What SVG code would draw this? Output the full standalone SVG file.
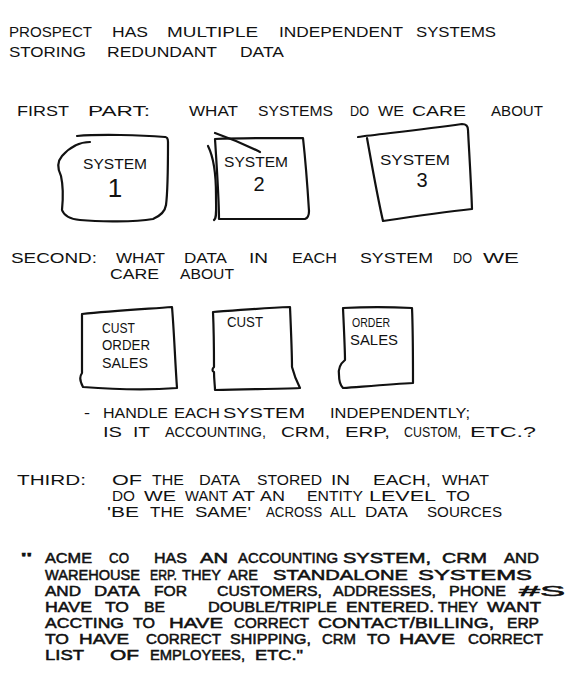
<svg xmlns="http://www.w3.org/2000/svg" width="588" height="680" viewBox="0 0 588 680">
<style>
  .t text{font-family:"Liberation Sans",Arial,sans-serif;fill:#111;font-size:15px}
  .s text{font-size:14px}
  .q text{stroke:#111;stroke-width:0.5px}
  .box{fill:none;stroke:#111;stroke-width:2.2;stroke-linecap:round;stroke-linejoin:round}
</style>
<rect width="588" height="680" fill="#fff"/>

<g id="intro" class="t">
  <text x="9" y="37" textLength="83" lengthAdjust="spacingAndGlyphs">PROSPECT</text>
  <text x="112" y="37" textLength="36" lengthAdjust="spacingAndGlyphs">HAS</text>
  <text x="167" y="37" textLength="91" lengthAdjust="spacingAndGlyphs">MULTIPLE</text>
  <text x="279" y="37" textLength="124" lengthAdjust="spacingAndGlyphs">INDEPENDENT</text>
  <text x="416" y="37" textLength="80" lengthAdjust="spacingAndGlyphs">SYSTEMS</text>
  <text x="9" y="57" textLength="77" lengthAdjust="spacingAndGlyphs">STORING</text>
  <text x="107" y="57" textLength="110" lengthAdjust="spacingAndGlyphs">REDUNDANT</text>
  <text x="240" y="57" textLength="44" lengthAdjust="spacingAndGlyphs">DATA</text>
</g>

<g id="first-part" class="t">
  <text x="17" y="116" textLength="52" lengthAdjust="spacingAndGlyphs">FIRST</text>
  <text x="88" y="116" textLength="62" lengthAdjust="spacingAndGlyphs">PART:</text>
  <text x="189" y="116" textLength="49" lengthAdjust="spacingAndGlyphs">WHAT</text>
  <text x="258" y="116" textLength="75" lengthAdjust="spacingAndGlyphs">SYSTEMS</text>
  <text x="350" y="116" textLength="19" lengthAdjust="spacingAndGlyphs">DO</text>
  <text x="378" y="116" textLength="26" lengthAdjust="spacingAndGlyphs">WE</text>
  <text x="412" y="116" textLength="54" lengthAdjust="spacingAndGlyphs">CARE</text>
  <text x="491" y="116" textLength="52" lengthAdjust="spacingAndGlyphs">ABOUT</text>
</g>

<g id="system-1" class="t">
  <path class="box" d="M77,136 C100,134 140,135 165,137"/>
  <path class="box" d="M90,142 C80,142 70,147 62,156 C56,163 58,170 61,176 C63,185 63,200 62,210 C64,216 70,219 80,220 C100,222 135,222 153,219 C160,216 165,212 166,205 C168,190 168,160 168,142 C168,139 167,137 165,137"/>
  <text x="83" y="169" textLength="64" lengthAdjust="spacingAndGlyphs">SYSTEM</text>
  <text x="115" y="197" text-anchor="middle" style="font-size:26px">1</text>
</g>

<g id="system-2" class="t">
  <path class="box" d="M215,139 C240,138 280,138 303,138 C306,165 308,195 309,211 C309,215 308,218 305,219 C280,219 250,219 219,219 C219,200 217,170 215,139"/>
  <path class="box" d="M215,133 C235,140 250,147 260,152"/>
  <path class="box" d="M208,146 C214,158 216,175 216,195 C216,210 217,218 214,220"/>
  <text x="224" y="167" textLength="64" lengthAdjust="spacingAndGlyphs">SYSTEM</text>
  <text x="259" y="191" text-anchor="middle" style="font-size:20px">2</text>
</g>

<g id="system-3" class="t">
  <path class="box" d="M358,137 C380,134 420,130 462,124 C466,124 468,126 468,130 C469,150 471,180 472,209 C445,212 410,217 383,221 C377,195 371,160 367,138"/>
  <text x="380" y="165" textLength="70" lengthAdjust="spacingAndGlyphs">SYSTEM</text>
  <text x="422" y="187" text-anchor="middle" style="font-size:20px">3</text>
</g>

<g id="second" class="t s">
  <text x="11" y="263" textLength="86" lengthAdjust="spacingAndGlyphs">SECOND:</text>
  <text x="116" y="263" textLength="49" lengthAdjust="spacingAndGlyphs">WHAT</text>
  <text x="184" y="263" textLength="43" lengthAdjust="spacingAndGlyphs">DATA</text>
  <text x="249" y="263" textLength="19" lengthAdjust="spacingAndGlyphs">IN</text>
  <text x="292" y="263" textLength="45" lengthAdjust="spacingAndGlyphs">EACH</text>
  <text x="360" y="263" textLength="73" lengthAdjust="spacingAndGlyphs">SYSTEM</text>
  <text x="453" y="263" textLength="19" lengthAdjust="spacingAndGlyphs">DO</text>
  <text x="483" y="263" textLength="36" lengthAdjust="spacingAndGlyphs">WE</text>
  <text x="110" y="279" textLength="49" lengthAdjust="spacingAndGlyphs">CARE</text>
  <text x="180" y="279" textLength="54" lengthAdjust="spacingAndGlyphs">ABOUT</text>
</g>

<g id="data-1" class="t">
  <path class="box" d="M82,314 C110,311 145,309 172,307 C174,330 175,360 177,388 C150,390 110,389 83,387 C79,379 80,376 82,373 C82,365 82,340 82,314"/>
  <text x="102" y="333" textLength="33" lengthAdjust="spacingAndGlyphs">CUST</text>
  <text x="102" y="350" textLength="48" lengthAdjust="spacingAndGlyphs">ORDER</text>
  <text x="102" y="368" textLength="46" lengthAdjust="spacingAndGlyphs">SALES</text>
</g>

<g id="data-2" class="t">
  <path class="box" d="M213,312 C240,310 265,308 290,307 C291,330 292,355 292,367 C294,375 297,382 300,388 C275,389 245,389 215,390 C215,386 214,380 214,372 C212,371 212,369 214,367 C214,360 214,335 213,312"/>
  <text x="227" y="327" textLength="36" lengthAdjust="spacingAndGlyphs">CUST</text>
</g>

<g id="data-3" class="t">
  <path class="box" d="M343,308 C365,307 390,307 412,308 C413,330 413,360 413,383 C395,384 370,386 343,388 C340,385 339,380 339,375 C338,368 340,364 345,360 C345,350 344,330 343,308"/>
  <text x="352" y="327" textLength="38" lengthAdjust="spacingAndGlyphs" style="font-size:13px">ORDER</text>
  <text x="350" y="345" textLength="48" lengthAdjust="spacingAndGlyphs">SALES</text>
</g>

<g id="handle" class="t">
  <text x="84" y="418" textLength="6" lengthAdjust="spacingAndGlyphs">-</text>
  <text x="103" y="418" textLength="65" lengthAdjust="spacingAndGlyphs">HANDLE</text>
  <text x="174" y="418" textLength="46" lengthAdjust="spacingAndGlyphs">EACH</text>
  <text x="223" y="418" textLength="82" lengthAdjust="spacingAndGlyphs">SYSTEM</text>
  <text x="330" y="418" textLength="140" lengthAdjust="spacingAndGlyphs">INDEPENDENTLY;</text>
  <text x="103" y="437" textLength="19" lengthAdjust="spacingAndGlyphs">IS</text>
  <text x="133" y="437" textLength="17" lengthAdjust="spacingAndGlyphs">IT</text>
  <text x="165" y="437" textLength="101" lengthAdjust="spacingAndGlyphs">ACCOUNTING,</text>
  <text x="281" y="437" textLength="49" lengthAdjust="spacingAndGlyphs">CRM,</text>
  <text x="345" y="437" textLength="45" lengthAdjust="spacingAndGlyphs">ERP,</text>
  <text x="404" y="437" textLength="57" lengthAdjust="spacingAndGlyphs">CUSTOM,</text>
  <text x="470" y="437" textLength="66" lengthAdjust="spacingAndGlyphs">ETC.?</text>
</g>

<g id="third" class="t s">
  <text x="17" y="485" textLength="69" lengthAdjust="spacingAndGlyphs">THIRD:</text>
  <text x="112" y="485" textLength="30" lengthAdjust="spacingAndGlyphs">OF</text>
  <text x="152" y="485" textLength="32" lengthAdjust="spacingAndGlyphs">THE</text>
  <text x="199" y="485" textLength="41" lengthAdjust="spacingAndGlyphs">DATA</text>
  <text x="257" y="485" textLength="65" lengthAdjust="spacingAndGlyphs">STORED</text>
  <text x="331" y="485" textLength="19" lengthAdjust="spacingAndGlyphs">IN</text>
  <text x="373" y="485" textLength="58" lengthAdjust="spacingAndGlyphs">EACH,</text>
  <text x="442" y="485" textLength="47" lengthAdjust="spacingAndGlyphs">WHAT</text>
  <text x="112" y="501" textLength="23" lengthAdjust="spacingAndGlyphs">DO</text>
  <text x="144" y="501" textLength="32" lengthAdjust="spacingAndGlyphs">WE</text>
  <text x="185" y="501" textLength="43" lengthAdjust="spacingAndGlyphs">WANT</text>
  <text x="232" y="501" textLength="23" lengthAdjust="spacingAndGlyphs">AT</text>
  <text x="260" y="501" textLength="25" lengthAdjust="spacingAndGlyphs">AN</text>
  <text x="307" y="501" textLength="56" lengthAdjust="spacingAndGlyphs">ENTITY</text>
  <text x="369" y="501" textLength="67" lengthAdjust="spacingAndGlyphs">LEVEL</text>
  <text x="446" y="501" textLength="24" lengthAdjust="spacingAndGlyphs">TO</text>
  <text x="107" y="517" textLength="32" lengthAdjust="spacingAndGlyphs">'BE</text>
  <text x="150" y="517" textLength="34" lengthAdjust="spacingAndGlyphs">THE</text>
  <text x="195" y="517" textLength="56" lengthAdjust="spacingAndGlyphs">SAME'</text>
  <text x="266" y="517" textLength="56" lengthAdjust="spacingAndGlyphs">ACROSS</text>
  <text x="330" y="517" textLength="26" lengthAdjust="spacingAndGlyphs">ALL</text>
  <text x="365" y="517" textLength="43" lengthAdjust="spacingAndGlyphs">DATA</text>
  <text x="427" y="517" textLength="75" lengthAdjust="spacingAndGlyphs">SOURCES</text>
</g>

<g id="quote" class="t s q">
  <text x="21" y="563" textLength="11" lengthAdjust="spacingAndGlyphs">"</text>
  <text x="45" y="563" textLength="47" lengthAdjust="spacingAndGlyphs">ACME</text>
  <text x="109" y="563" textLength="20" lengthAdjust="spacingAndGlyphs">CO</text>
  <text x="154" y="563" textLength="33" lengthAdjust="spacingAndGlyphs">HAS</text>
  <text x="200" y="563" textLength="28" lengthAdjust="spacingAndGlyphs">AN</text>
  <text x="238" y="563" textLength="100" lengthAdjust="spacingAndGlyphs">ACCOUNTING</text>
  <text x="343" y="563" textLength="88" lengthAdjust="spacingAndGlyphs">SYSTEM,</text>
  <text x="442" y="563" textLength="45" lengthAdjust="spacingAndGlyphs">CRM</text>
  <text x="504" y="563" textLength="35" lengthAdjust="spacingAndGlyphs">AND</text>

  <text x="45" y="580" textLength="95" lengthAdjust="spacingAndGlyphs">WAREHOUSE</text>
  <text x="150" y="580" textLength="27" lengthAdjust="spacingAndGlyphs">ERP.</text>
  <text x="182" y="580" textLength="39" lengthAdjust="spacingAndGlyphs">THEY</text>
  <text x="228" y="580" textLength="30" lengthAdjust="spacingAndGlyphs">ARE</text>
  <text x="273" y="580" textLength="135" lengthAdjust="spacingAndGlyphs">STANDALONE</text>
  <text x="418" y="580" textLength="114" lengthAdjust="spacingAndGlyphs">SYSTEMS</text>

  <text x="45" y="596" textLength="36" lengthAdjust="spacingAndGlyphs">AND</text>
  <text x="94" y="596" textLength="46" lengthAdjust="spacingAndGlyphs">DATA</text>
  <text x="154" y="596" textLength="33" lengthAdjust="spacingAndGlyphs">FOR</text>
  <text x="217" y="596" textLength="105" lengthAdjust="spacingAndGlyphs">CUSTOMERS,</text>
  <text x="333" y="596" textLength="103" lengthAdjust="spacingAndGlyphs">ADDRESSES,</text>
  <text x="449" y="596" textLength="57" lengthAdjust="spacingAndGlyphs">PHONE</text>
  <text x="519" y="596" textLength="46" lengthAdjust="spacingAndGlyphs">#S</text>

  <text x="45" y="612" textLength="47" lengthAdjust="spacingAndGlyphs">HAVE</text>
  <text x="105" y="612" textLength="24" lengthAdjust="spacingAndGlyphs">TO</text>
  <text x="144" y="612" textLength="21" lengthAdjust="spacingAndGlyphs">BE</text>
  <text x="208" y="612" textLength="129" lengthAdjust="spacingAndGlyphs">DOUBLE/TRIPLE</text>
  <text x="346" y="612" textLength="88" lengthAdjust="spacingAndGlyphs">ENTERED.</text>
  <text x="438" y="612" textLength="40" lengthAdjust="spacingAndGlyphs">THEY</text>
  <text x="487" y="612" textLength="54" lengthAdjust="spacingAndGlyphs">WANT</text>

  <text x="45" y="628" textLength="79" lengthAdjust="spacingAndGlyphs">ACCTING</text>
  <text x="133" y="628" textLength="22" lengthAdjust="spacingAndGlyphs">TO</text>
  <text x="169" y="628" textLength="54" lengthAdjust="spacingAndGlyphs">HAVE</text>
  <text x="234" y="628" textLength="75" lengthAdjust="spacingAndGlyphs">CORRECT</text>
  <text x="318" y="628" textLength="176" lengthAdjust="spacingAndGlyphs">CONTACT/BILLING,</text>
  <text x="507" y="628" textLength="32" lengthAdjust="spacingAndGlyphs">ERP</text>

  <text x="45" y="644" textLength="24" lengthAdjust="spacingAndGlyphs">TO</text>
  <text x="79" y="644" textLength="50" lengthAdjust="spacingAndGlyphs">HAVE</text>
  <text x="146" y="644" textLength="75" lengthAdjust="spacingAndGlyphs">CORRECT</text>
  <text x="230" y="644" textLength="81" lengthAdjust="spacingAndGlyphs">SHIPPING,</text>
  <text x="322" y="644" textLength="34" lengthAdjust="spacingAndGlyphs">CRM</text>
  <text x="367" y="644" textLength="23" lengthAdjust="spacingAndGlyphs">TO</text>
  <text x="399" y="644" textLength="56" lengthAdjust="spacingAndGlyphs">HAVE</text>
  <text x="468" y="644" textLength="75" lengthAdjust="spacingAndGlyphs">CORRECT</text>

  <text x="45" y="660" textLength="39" lengthAdjust="spacingAndGlyphs">LIST</text>
  <text x="110" y="660" textLength="29" lengthAdjust="spacingAndGlyphs">OF</text>
  <text x="150" y="660" textLength="95" lengthAdjust="spacingAndGlyphs">EMPLOYEES,</text>
  <text x="255" y="660" textLength="48" lengthAdjust="spacingAndGlyphs">ETC."</text>
</g>

<g id="connectors"/>
</svg>
